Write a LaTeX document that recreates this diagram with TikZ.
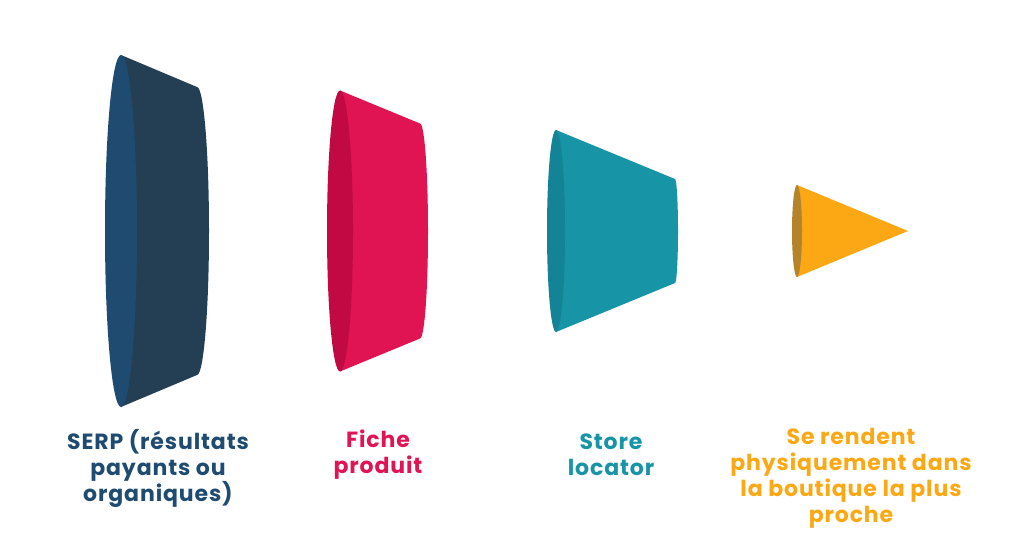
\documentclass[tikz,border=0pt]{standalone}
\usepackage{fontspec}
\setmainfont{Poppins}[LetterSpace=4]

\definecolor{serpfront}{HTML}{1F4B70}
\definecolor{serpbody}{HTML}{243E53}
\definecolor{fichefront}{HTML}{C10A43}
\definecolor{fichebody}{HTML}{E11453}
\definecolor{storefront}{HTML}{128495}
\definecolor{storebody}{HTML}{1794A5}
\definecolor{shopfront}{HTML}{B4832B}
\definecolor{shopbody}{HTML}{FBA814}

% one slice of the funnel: front x, rx, ry, back x, rx, ry, front colour, body colour
\newcommand{\funnelpart}[8]{
  \fill[#8] (#1,324+#3) -- (#4,324+#6)
    arc[start angle=90, end angle=-90, x radius=#5, y radius=#6]
    -- (#1,324-#3) -- cycle;
  \fill[#7] (#1,324) ellipse[x radius=#2, y radius=#3];
}

\begin{document}
\begin{tikzpicture}[x=1pt, y=1pt,
  label/.style = {font=\bfseries\fontsize{22}{26}\selectfont, align=center, inner sep=0pt},
  ]
  \useasboundingbox (0,0) rectangle (1011,555);

  \funnelpart{121}{16}{176}{197}{12}{144}{serpfront}{serpbody}
  \funnelpart{340}{13}{140.5}{420}{8}{107.5}{fichefront}{fichebody}
  \funnelpart{556}{9}{101}{675}{3}{52}{storefront}{storebody}
  % last slice ends in a point
  \fill[shopbody] (797,370) -- (908,324) -- (797,278) -- cycle;
  \fill[shopfront] (797,324) ellipse[x radius=5, y radius=46];

  \node[label, text=serpfront] (serp) at (158,87) {SERP (résultats\\payants ou\\organiques)};
  \node[label, text=fichebody] (fiche) at (378,100) {Fiche\\produit};
  \node[label, text=storebody] (store) at (611,100) {Store\\locator};
  \node[label, text=shopbody] (shop) at (851,77) {Se rendent\\physiquement dans\\la boutique la plus\\proche};
\end{tikzpicture}
\end{document}
